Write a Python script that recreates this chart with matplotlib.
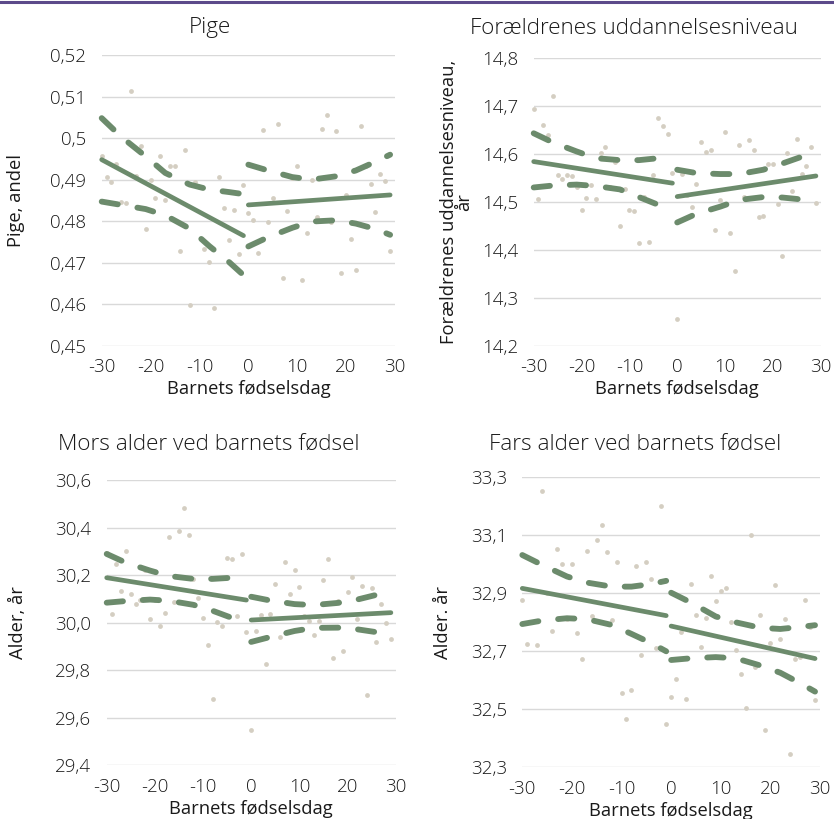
import numpy as np
import matplotlib
matplotlib.use('Agg')
import matplotlib.pyplot as plt
from matplotlib.lines import Line2D
from matplotlib.ticker import FuncFormatter

plt.rcParams['font.family'] = ['Open Sans', 'DejaVu Sans']
plt.rcParams['font.weight'] = 'light'
plt.rcParams['axes.unicode_minus'] = False

GREEN = '#6c8b6c'
DOT = '#d4cec2'
GRID = '#d9d9d9'
PURPLE = '#5c4a8a'
TEXT = '#1a1a1a'

# days relative to the birthday cut-off
days = list(range(-30, 30))

# fit lines are drawn separately on each side of 0
fit_x_left = [-30, -1]
fit_x_right = [0, 29]

# confidence band points
ci_x_left = [-30, -26, -21, -17, -12, -8, -4, -1]
ci_x_right = [0, 4, 9, 13, 18, 22, 26, 29]

# Pige
pige_points = [0.4957, 0.4907, 0.4895, 0.4938, 0.4847, 0.4843, 0.5113, 0.4909, 0.4982, 0.4780,
               0.4900, 0.4855, 0.4957, 0.4852, 0.4933, 0.4933, 0.4729, 0.4971, 0.4598, 0.4893,
               0.4883, 0.4733, 0.4702, 0.4590, 0.4907, 0.4831, 0.4754, 0.4827, 0.4721, 0.4887,
               0.4819, 0.4802, 0.4724, 0.5019, 0.4798, 0.4855, 0.5035, 0.4663, 0.4825, 0.4905,
               0.4933, 0.4658, 0.4772, 0.4900, 0.4809, 0.5022, 0.5055, 0.4797, 0.5016, 0.4676,
               0.4863, 0.4758, 0.4682, 0.5029, 0.4933, 0.4890, 0.4823, 0.4913, 0.4896, 0.4729]
pige_fit_left = [0.4948, 0.4765]
pige_fit_right = [0.4839, 0.4863]
pige_up_left = [0.5048, 0.5003, 0.4956, 0.4916, 0.4888, 0.4876, 0.4870, 0.4865]
pige_lo_left = [0.4847, 0.4839, 0.4829, 0.4814, 0.4782, 0.4740, 0.4702, 0.4670]
pige_up_right = [0.4936, 0.4922, 0.4906, 0.4900, 0.4908, 0.4922, 0.4943, 0.4960]
pige_lo_right = [0.4739, 0.4761, 0.4784, 0.4799, 0.4802, 0.4794, 0.4781, 0.4767]

# Forældrenes uddannelsesniveau
udd_points = [14.693, 14.506, 14.661, 14.640, 14.720, 14.556, 14.548, 14.557, 14.553, 14.530,
              14.483, 14.507, 14.535, 14.505, 14.602, 14.615, 14.531, 14.584, 14.449, 14.527,
              14.483, 14.481, 14.415, 14.510, 14.416, 14.556, 14.674, 14.659, 14.642, 14.560,
              14.256, 14.558, 14.515, 14.489, 14.537, 14.624, 14.603, 14.609, 14.442, 14.503,
              14.645, 14.435, 14.356, 14.618, 14.510, 14.628, 14.609, 14.469, 14.471, 14.579,
              14.579, 14.495, 14.387, 14.601, 14.522, 14.632, 14.558, 14.575, 14.615, 14.497]
udd_fit_left = [14.584, 14.539]
udd_fit_right = [14.511, 14.554]
udd_up_left = [14.643, 14.624, 14.605, 14.591, 14.587, 14.587, 14.591, 14.594]
udd_lo_left = [14.530, 14.534, 14.536, 14.533, 14.526, 14.510, 14.494, 14.478]
udd_up_right = [14.567, 14.560, 14.558, 14.558, 14.567, 14.580, 14.594, 14.607]
udd_lo_right = [14.457, 14.475, 14.490, 14.504, 14.510, 14.509, 14.505, 14.500]

# Mors alder
mor_points = [30.292, 30.038, 30.248, 30.132, 30.300, 30.119, 30.077, 30.095, 30.221, 30.014,
              30.095, 29.987, 30.042, 30.362, 30.085, 30.387, 30.481, 30.367, 30.184, 30.104,
              30.020, 29.906, 29.680, 30.001, 29.986, 30.271, 30.269, 30.028, 30.290, 29.961,
              29.550, 29.966, 30.032, 29.828, 30.036, 30.161, 29.941, 30.254, 30.121, 30.221,
              30.150, 30.028, 30.008, 29.950, 30.008, 30.178, 30.269, 29.850, 30.091, 29.881,
              30.129, 30.192, 30.015, 30.153, 29.697, 30.144, 29.920, 30.080, 29.997, 29.930]
mor_fit_left = [30.189, 30.095]
mor_fit_right = [30.011, 30.042]
mor_up_left = [30.289, 30.252, 30.219, 30.196, 30.184, 30.184, 30.189, 30.196]
mor_lo_left = [30.084, 30.091, 30.097, 30.092, 30.075, 30.050, 30.020, 29.993]
mor_up_right = [30.109, 30.093, 30.078, 30.074, 30.083, 30.097, 30.117, 30.135]
mor_lo_right = [29.919, 29.940, 29.965, 29.978, 29.979, 29.972, 29.960, 29.948]

# Fars alder
far_points = [32.877, 32.726, 32.800, 32.722, 33.253, 32.900, 32.769, 33.052, 33.002, 32.810,
              33.000, 32.762, 32.675, 33.046, 32.822, 33.085, 33.134, 33.043, 32.808, 33.007,
              32.557, 32.468, 32.565, 32.993, 32.686, 33.009, 32.949, 32.713, 33.202, 32.448,
              32.541, 32.605, 32.768, 32.537, 32.933, 32.824, 32.716, 32.815, 32.961, 32.874,
              32.909, 32.918, 32.800, 32.703, 32.620, 32.506, 33.102, 32.645, 32.824, 32.430,
              32.728, 32.929, 32.741, 32.813, 32.347, 32.672, 32.680, 32.878, 32.785, 32.531]
far_fit_left = [32.917, 32.823]
far_fit_right = [32.787, 32.675]
far_up_left = [33.032, 32.998, 32.958, 32.937, 32.923, 32.923, 32.932, 32.943]
far_lo_left = [32.794, 32.806, 32.814, 32.811, 32.791, 32.760, 32.728, 32.700]
far_up_right = [32.902, 32.868, 32.820, 32.800, 32.781, 32.777, 32.784, 32.790]
far_lo_right = [32.670, 32.676, 32.680, 32.676, 32.651, 32.626, 32.590, 32.561]

W, H = 834, 819
fig = plt.figure(figsize=(W / 100, H / 100), dpi=100)


def px_axes(left, top, right, bottom):
    # axes box given in pixel coordinates of the reference
    return fig.add_axes([left / W, 1 - bottom / H, (right - left) / W, (bottom - top) / H])


def draw_panel(ax, points, fit_l, fit_r, up_l, lo_l, up_r, lo_r, ylim, ystep, fmt, ylabel, label_x):
    ax.scatter(days, points, s=12, color=DOT, linewidths=0, zorder=2, clip_on=False)
    ax.plot(fit_x_left, fit_l, color=GREEN, lw=3.4, solid_capstyle='round', zorder=3, clip_on=False)
    ax.plot(fit_x_right, fit_r, color=GREEN, lw=3.4, solid_capstyle='round', zorder=3, clip_on=False)
    for xs, ys in [(ci_x_left, up_l), (ci_x_left, lo_l), (ci_x_right, up_r), (ci_x_right, lo_r)]:
        ax.plot(xs, ys, color=GREEN, lw=4.2, linestyle=(0, (2.8, 3.4)), dash_capstyle='round',
                zorder=3, clip_on=False)

    ax.set_xlim(-30, 30)
    ax.set_ylim(*ylim)
    ax.set_xticks(range(-30, 31, 10))
    ax.set_yticks(np.arange(ylim[0], ylim[1] + ystep / 2, ystep))
    ax.yaxis.set_major_formatter(FuncFormatter(lambda v, p: format(round(v, 4), fmt).replace('.', ',')))
    ax.grid(axis='y', color=GRID, lw=1.0)
    ax.set_axisbelow(True)
    for s in ax.spines.values():
        s.set_visible(False)
    ax.tick_params(length=0, labelsize=13.5, colors=TEXT)
    ax.tick_params(axis='y', pad=11)
    ax.tick_params(axis='x', pad=9)
    ax.set_xlabel('Barnets fødselsdag', fontsize=13.2, labelpad=3, color=TEXT)
    ax.set_ylabel(ylabel, fontsize=13.2, color=TEXT, linespacing=0.85)
    ax.yaxis.set_label_coords(label_x, 0.5)


ax1 = px_axes(101.7, 55, 395, 345.7)
draw_panel(ax1, pige_points, pige_fit_left, pige_fit_right, pige_up_left, pige_lo_left,
           pige_up_right, pige_lo_right, (0.45, 0.52), 0.01, 'g', 'Pige, andel', -0.262)

ax2 = px_axes(533.7, 58, 820.7, 345.7)
draw_panel(ax2, udd_points, udd_fit_left, udd_fit_right, udd_up_left, udd_lo_left,
           udd_up_right, udd_lo_right, (14.2, 14.8), 0.1, '.1f',
           'Forældrenes uddannelsesniveau,\når', -0.21)

ax3 = px_axes(106.7, 480, 395.7, 765.3)
draw_panel(ax3, mor_points, mor_fit_left, mor_fit_right, mor_up_left, mor_lo_left,
           mor_up_right, mor_lo_right, (29.4, 30.6), 0.2, '.1f', 'Alder, år', -0.276)

ax4 = px_axes(522.3, 477.3, 820, 767.3)
draw_panel(ax4, far_points, far_fit_left, far_fit_right, far_up_left, far_lo_left,
           far_up_right, far_lo_right, (32.3, 33.3), 0.2, '.1f', 'Alder. år', -0.236)

# panel titles, centred on each quarter of the figure
titles = ['Pige', 'Forældrenes uddannelsesniveau', 'Mors alder ved barnets fødsel', 'Fars alder ved barnets fødsel']
title_pos = [(210, 28), (634, 28), (209, 445), (635, 445)]
for t, (tx, ty) in zip(titles, title_pos):
    fig.text(tx / W, 1 - ty / H, t, ha='center', va='center', fontsize=16.2, color=TEXT)

# purple rule along the top edge
fig.add_artist(Line2D([0, 1], [1 - 1.5 / H, 1 - 1.5 / H], color=PURPLE, lw=2.2, transform=fig.transFigure))

fig.savefig('out.png', dpi=100, facecolor='white')
